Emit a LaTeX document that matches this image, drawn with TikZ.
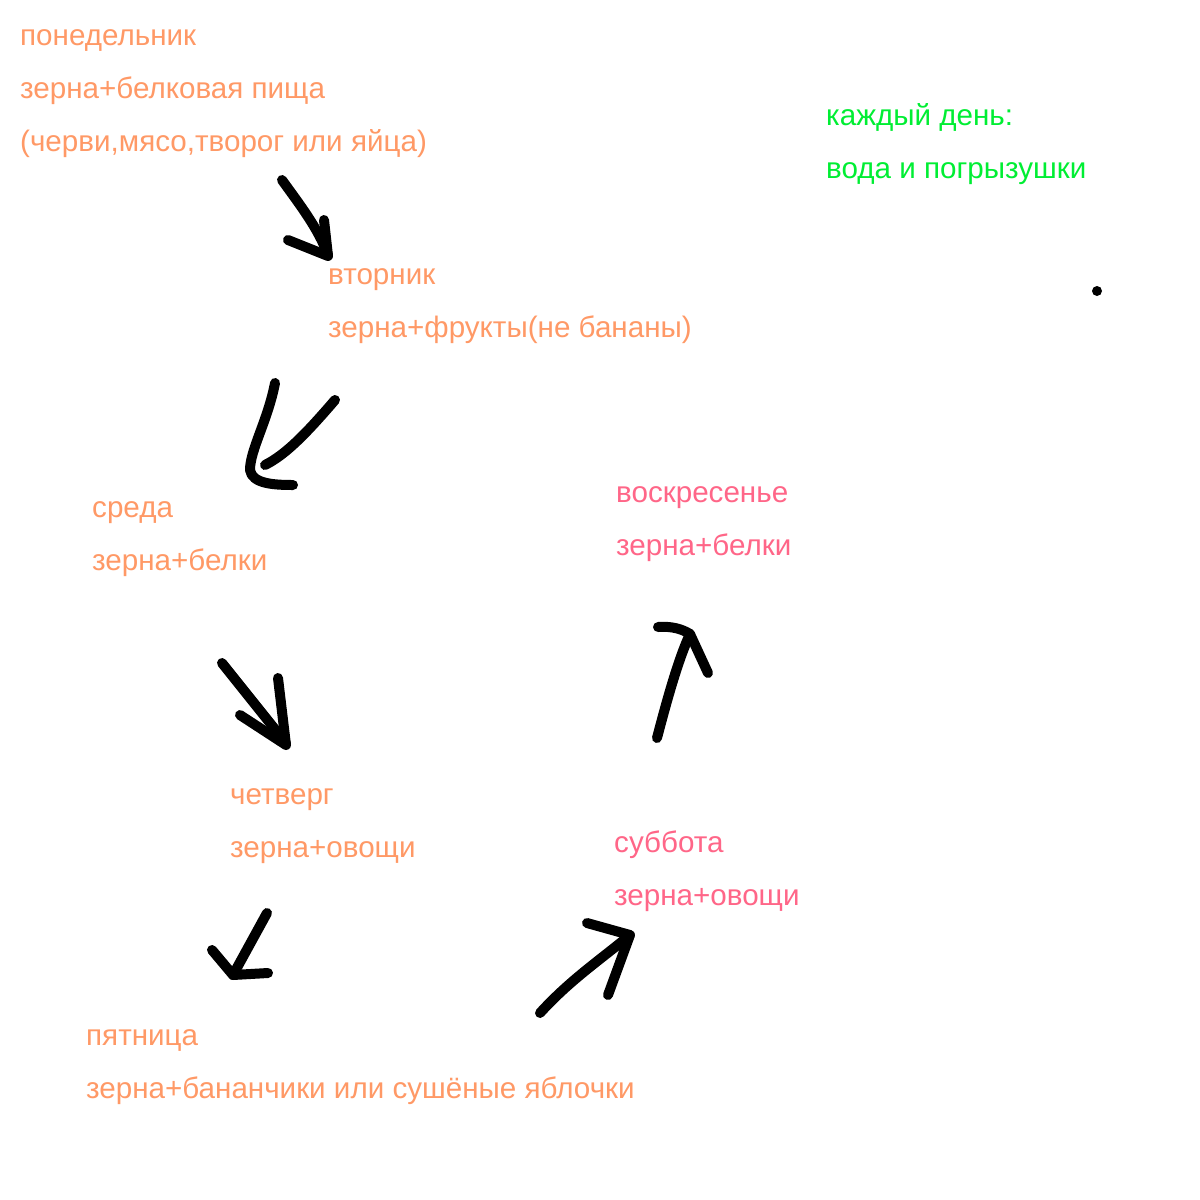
\documentclass[tikz,border=0pt]{standalone}
\usepackage{fontspec}
\setmainfont{Liberation Sans}
\usepackage{xcolor}
\definecolor{dayorange}{HTML}{FF9966}
\definecolor{daypink}{HTML}{FF6688}
\definecolor{daygreen}{HTML}{00EE33}

\begin{document}
\begin{tikzpicture}[
        x=1pt, y=-1pt,
        day/.style={font=\fontsize{29.6}{36}\selectfont, text=dayorange, anchor=base west, inner sep=0pt},
        weekend/.style={day, text=daypink},
        daily/.style={day, text=daygreen},
        sketch/.style={draw=black, line width=10pt, line cap=round, line join=round}
    ]
    \useasboundingbox[fill=white] (0,0) rectangle (1200,1200);

    \node[day] (mon)  at (20,45)  {понедельник};
    \node[day] (mon2) at (20,98)  {зерна+белковая пища};
    \node[day] (mon3) at (20,151) {(черви,мясо,творог или яйца)};

    \node[day] (tue)  at (328,284) {вторник};
    \node[day] (tue2) at (328,337) {зерна+фрукты(не бананы)};

    \node[day] (wed)  at (92,517) {среда};
    \node[day] (wed2) at (92,570) {зерна+белки};

    \node[day] (thu)  at (230,804) {четверг};
    \node[day] (thu2) at (230,857) {зерна+овощи};

    \node[day] (fri)  at (86,1045) {пятница};
    \node[day] (fri2) at (86,1098) {зерна+бананчики или сушёные яблочки};

    \node[weekend] (sat)  at (614,852) {суббота};
    \node[weekend] (sat2) at (614,905) {зерна+овощи};

    \node[weekend] (sun)  at (616,502) {воскресенье};
    \node[weekend] (sun2) at (616,555) {зерна+белки};

    \node[daily] (every)  at (826,125) {каждый день:};
    \node[daily] (every2) at (826,178) {вода и погрызушки};

    \fill (1097,291) circle (5);

    % hand drawn arrows
    \draw[sketch] (282,180) .. controls (300,205) and (318,228) .. (328,255);
    \draw[sketch] (288,240) -- (328,256) -- (324,220);

    \draw[sketch] (335,400) .. controls (305,435) and (285,455) .. (265,465);
    \draw[sketch] (275,383) .. controls (268,420) and (250,450) .. (250,470)
        .. controls (252,484) and (275,485) .. (293,485);

    \draw[sketch] (222,663) -- (286,743);
    \draw[sketch] (240,715) -- (286,745) -- (278,678);

    \draw[sketch] (267,913) -- (233,975);
    \draw[sketch] (212,950) -- (233,975) -- (268,973);

    \draw[sketch] (540,1013) .. controls (570,980) and (600,960) .. (630,935);
    \draw[sketch] (587,923) -- (630,935) -- (608,995);

    \draw[sketch] (657,738) .. controls (667,700) and (678,660) .. (690,634);
    \draw[sketch] (658,627) .. controls (672,626) and (682,629) .. (690,634) -- (708,673);
\end{tikzpicture}
\end{document}
